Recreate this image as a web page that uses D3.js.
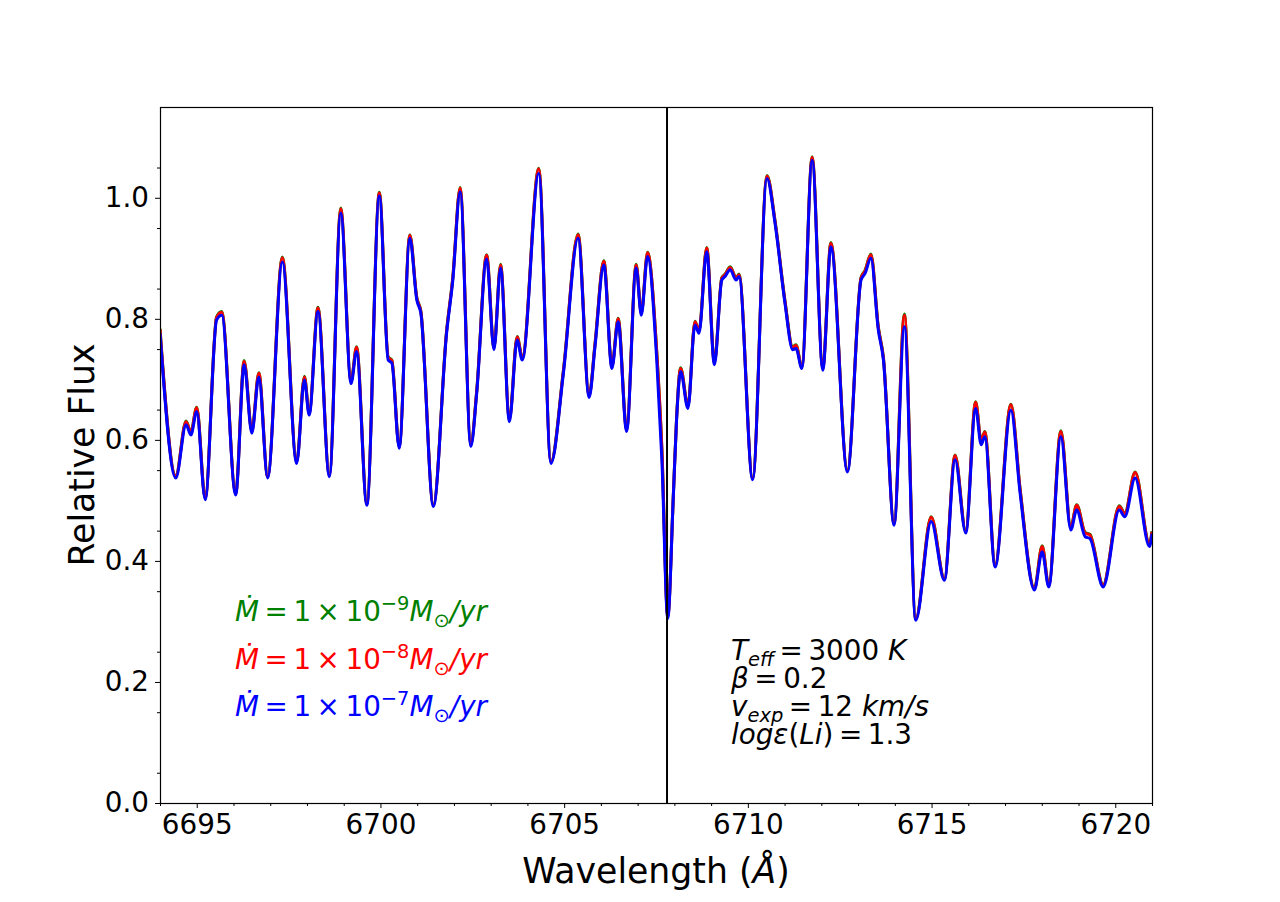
<!DOCTYPE html>
<html>
<head>
<meta charset="utf-8">
<script src="https://cdn.jsdelivr.net/npm/d3@7"></script>
<style>
  html, body { margin: 0; padding: 0; background: #fff; }
  svg { display: block; font-family: "DejaVu Sans", sans-serif; }
  text { white-space: pre; }
</style>
</head>
<body>
<svg id="chart" width="1280" height="902"></svg>
<script>
// wavelength grid (Angstrom) at peaks / troughs / shoulders
const wavelength = [
  6694.00, 6694.43, 6694.71, 6694.84, 6695.00, 6695.23, 6695.54, 6695.68, 6696.06, 6696.29,
  6696.50, 6696.69, 6696.93, 6697.33, 6697.72, 6697.93, 6698.06, 6698.30, 6698.61, 6698.92,
  6699.20, 6699.35, 6699.63, 6699.97, 6700.21, 6700.31, 6700.51, 6700.80, 6700.99, 6701.10,
  6701.44, 6701.80, 6701.97, 6702.17, 6702.46, 6702.62, 6702.89, 6703.09, 6703.27, 6703.51,
  6703.72, 6703.86, 6704.31, 6704.64, 6704.98, 6705.38, 6705.68, 6705.84, 6706.08, 6706.30,
  6706.47, 6706.70, 6706.96, 6707.10, 6707.27, 6707.52, 6707.66, 6707.82, 6707.97, 6708.06,
  6708.17, 6708.37, 6708.56, 6708.67, 6708.88, 6709.09, 6709.29, 6709.38, 6709.52, 6709.68,
  6709.76, 6710.13, 6710.52, 6710.74, 6711.01, 6711.22, 6711.31, 6711.47, 6711.75, 6712.04,
  6712.26, 6712.71, 6713.08, 6713.19, 6713.35, 6713.55, 6713.69, 6713.98, 6714.26, 6714.57,
  6714.99, 6715.35, 6715.64, 6715.93, 6716.20, 6716.35, 6716.45, 6716.73, 6717.16, 6717.41,
  6717.80, 6718.01, 6718.19, 6718.52, 6718.79, 6718.95, 6719.18, 6719.31, 6719.67, 6720.11,
  6720.26, 6720.54, 6720.93, 6721.00
];

// Mdot = 1e-9 Msun/yr (green, mostly hidden under red)
const fluxMdot9 = [
  0.784, 0.541, 0.631, 0.613, 0.654, 0.504, 0.803, 0.812, 0.512, 0.731,
  0.615, 0.711, 0.540, 0.902, 0.564, 0.705, 0.645, 0.819, 0.542, 0.983,
  0.697, 0.754, 0.495, 1.009, 0.737, 0.732, 0.589, 0.939, 0.835, 0.813,
  0.493, 0.780, 0.869, 1.017, 0.593, 0.681, 0.906, 0.753, 0.890, 0.634,
  0.771, 0.736, 1.049, 0.564, 0.715, 0.940, 0.674, 0.759, 0.896, 0.722,
  0.801, 0.618, 0.890, 0.810, 0.910, 0.746, 0.586, 0.309, 0.506, 0.636,
  0.719, 0.656, 0.796, 0.780, 0.918, 0.728, 0.868, 0.874, 0.886, 0.868,
  0.874, 0.537, 1.037, 0.962, 0.830, 0.754, 0.757, 0.721, 1.068, 0.719,
  0.926, 0.550, 0.868, 0.880, 0.907, 0.787, 0.736, 0.462, 0.808, 0.305,
  0.473, 0.371, 0.575, 0.450, 0.663, 0.599, 0.614, 0.394, 0.659, 0.519,
  0.355, 0.425, 0.360, 0.615, 0.456, 0.493, 0.447, 0.444, 0.361, 0.491,
  0.479, 0.547, 0.429, 0.449
];

// Mdot = 1e-8 Msun/yr (red)
const fluxMdot8 = [
  0.783, 0.540, 0.630, 0.612, 0.653, 0.503, 0.802, 0.811, 0.511, 0.730,
  0.614, 0.710, 0.539, 0.901, 0.563, 0.704, 0.644, 0.818, 0.541, 0.982,
  0.696, 0.753, 0.494, 1.008, 0.736, 0.731, 0.588, 0.938, 0.834, 0.812,
  0.492, 0.779, 0.868, 1.016, 0.592, 0.680, 0.905, 0.752, 0.889, 0.633,
  0.770, 0.735, 1.048, 0.563, 0.714, 0.939, 0.673, 0.758, 0.895, 0.721,
  0.800, 0.617, 0.889, 0.809, 0.909, 0.745, 0.585, 0.308, 0.505, 0.635,
  0.718, 0.655, 0.795, 0.779, 0.917, 0.727, 0.867, 0.873, 0.885, 0.867,
  0.873, 0.536, 1.036, 0.961, 0.829, 0.753, 0.756, 0.720, 1.067, 0.718,
  0.925, 0.549, 0.867, 0.879, 0.906, 0.786, 0.735, 0.461, 0.806, 0.304,
  0.472, 0.370, 0.574, 0.449, 0.662, 0.598, 0.613, 0.393, 0.658, 0.518,
  0.354, 0.424, 0.359, 0.614, 0.455, 0.492, 0.446, 0.443, 0.360, 0.490,
  0.478, 0.546, 0.428, 0.448
];

// Mdot = 1e-7 Msun/yr (blue, drawn on top)
const fluxMdot7 = [
  0.777, 0.537, 0.625, 0.608, 0.647, 0.501, 0.798, 0.806, 0.509, 0.724,
  0.611, 0.704, 0.537, 0.894, 0.561, 0.699, 0.641, 0.812, 0.539, 0.975,
  0.693, 0.746, 0.492, 1.003, 0.732, 0.727, 0.586, 0.933, 0.831, 0.809,
  0.490, 0.776, 0.864, 1.010, 0.589, 0.677, 0.899, 0.749, 0.884, 0.630,
  0.765, 0.732, 1.040, 0.561, 0.710, 0.933, 0.670, 0.754, 0.889, 0.718,
  0.795, 0.614, 0.884, 0.806, 0.903, 0.732, 0.567, 0.305, 0.504, 0.633,
  0.713, 0.652, 0.790, 0.776, 0.911, 0.724, 0.864, 0.870, 0.881, 0.864,
  0.870, 0.534, 1.032, 0.958, 0.826, 0.749, 0.751, 0.718, 1.062, 0.715,
  0.919, 0.547, 0.864, 0.875, 0.900, 0.782, 0.732, 0.459, 0.787, 0.302,
  0.465, 0.368, 0.567, 0.446, 0.652, 0.592, 0.605, 0.390, 0.649, 0.512,
  0.352, 0.415, 0.357, 0.605, 0.451, 0.484, 0.440, 0.437, 0.357, 0.484,
  0.473, 0.537, 0.424, 0.445
];

const seriesNames = ["1e-9", "1e-8", "1e-7"];
const seriesColors = ["green", "red", "blue"];
const seriesExponents = ["\u22129", "\u22128", "\u22127"];
const seriesFlux = [fluxMdot9, fluxMdot8, fluxMdot7];

const xTicks = [6695, 6700, 6705, 6710, 6715, 6720];
const yTicks = [0.0, 0.2, 0.4, 0.6, 0.8, 1.0];
const liLine = 6707.8;

(function () {
  "use strict";

  const svg = d3.select("#chart");
  const margin = { left: 160, top: 107, right: 1152, bottom: 803 };
  const FS = 27.8;
  const TH = "\u2009"; // thin space, closer to mathtext spacing

  const x = d3.scaleLinear().domain([6694, 6721]).range([margin.left, margin.right]);
  const y = d3.scaleLinear().domain([0, 1.15]).range([margin.bottom, margin.top]);

  svg.append("defs").append("clipPath").attr("id", "plot-clip")
    .append("rect")
    .attr("x", margin.left).attr("y", margin.top)
    .attr("width", margin.right - margin.left).attr("height", margin.bottom - margin.top);

  const plot = svg.append("g").attr("clip-path", "url(#plot-clip)");

  const line = d3.line()
    .x((d) => x(d[0]))
    .y((d) => y(d[1]))
    .curve(d3.curveMonotoneX);

  seriesFlux.forEach((flux, i) => {
    plot.append("path")
      .datum(wavelength.map((w, k) => [w, flux[k]]))
      .attr("fill", "none")
      .attr("stroke", seriesColors[i])
      .attr("stroke-width", 3)
      .attr("stroke-linejoin", "round")
      .attr("d", line);
  });

  // Li I line marker
  plot.append("line")
    .attr("x1", x(liLine)).attr("x2", x(liLine))
    .attr("y1", margin.top).attr("y2", margin.bottom)
    .attr("stroke", "black").attr("stroke-width", 2);

  // axes
  const xAxis = svg.append("g").attr("transform", `translate(0,${margin.bottom})`)
    .call(d3.axisBottom(x).tickValues(xTicks).tickFormat(d3.format("d")).tickSize(5).tickPadding(6));
  svg.append("g").attr("transform", `translate(0,${margin.bottom})`)
    .call(d3.axisBottom(x).tickValues(d3.range(6694, 6722).filter((v) => v % 5 !== 0)).tickFormat("").tickSize(3))
    .call((g) => g.select(".domain").remove());

  const yAxis = svg.append("g").attr("transform", `translate(${margin.left},0)`)
    .call(d3.axisLeft(y).tickValues(yTicks).tickFormat(d3.format(".1f")).tickSize(5).tickPadding(6));
  svg.append("g").attr("transform", `translate(${margin.left},0)`)
    .call(d3.axisLeft(y).tickValues(d3.range(1, 23, 2).map((v) => v * 0.05)).tickFormat("").tickSize(3))
    .call((g) => g.select(".domain").remove());

  [xAxis, yAxis].forEach((g) => {
    g.selectAll("text").style("font-size", FS + "px").style("font-family", "DejaVu Sans").attr("fill", "black");
    g.select(".domain").remove();
  });
  svg.selectAll(".tick line").attr("stroke", "black").attr("stroke-width", 1);

  svg.append("rect")
    .attr("x", margin.left + 0.5).attr("y", margin.top + 0.5)
    .attr("width", margin.right - margin.left).attr("height", margin.bottom - margin.top)
    .attr("fill", "none").attr("stroke", "black").attr("stroke-width", 1.2);

  // axis labels
  const xl = svg.append("text")
    .attr("x", (margin.left + margin.right) / 2).attr("y", 883)
    .attr("text-anchor", "middle").style("font-size", "34.7px");
  xl.append("tspan").text("Wavelength (");
  xl.append("tspan").style("font-style", "italic").text("\u00C5");
  xl.append("tspan").text(")");

  svg.append("text")
    .attr("transform", `translate(94,${(margin.top + margin.bottom) / 2}) rotate(-90)`)
    .attr("text-anchor", "middle").style("font-size", "34.7px")
    .text("Relative Flux");

  // mathtext-like helper
  function mathText(xp, yp, parts, color) {
    const t = svg.append("text").attr("x", xp).attr("y", yp).attr("fill", color).style("font-size", FS + "px");
    let shift = 0;
    parts.forEach(([str, it, pos]) => {
      const target = pos === "sup" ? -0.4 * FS : pos === "sub" ? 0.22 * FS : 0;
      const ts = t.append("tspan").attr("dy", target - shift).text(str);
      shift = target;
      if (it) ts.style("font-style", "italic");
      if (pos) ts.style("font-size", (0.7 * FS) + "px");
    });
    return t;
  }

  const legendY = [621, 669, 716];
  seriesNames.forEach((n, i) => {
    mathText(235, legendY[i], [
      ["\u1E40", true],
      [TH + "=" + TH + "1" + TH + "\u00D7" + TH + "10", false],
      [seriesExponents[i], false, "sup"],
      ["M", true],
      ["\u2299", false, "sub"],
      ["/yr", true]
    ], seriesColors[i]);
  });

  const params = [
    [["T", true], ["eff", true, "sub"], [TH + "=" + TH + "3000 ", false], ["K", true]],
    [["\u03B2", true], [TH + "=" + TH + "0.2", false]],
    [["v", true], ["exp", true, "sub"], [TH + "=" + TH + "12 ", false], ["km/s", true]],
    [["log\u03B5", true], ["(", false], ["Li", true], [")", false], [TH + "=" + TH + "1.3", false]]
  ];
  const paramY = [660, 688, 716, 744];
  params.forEach((p, i) => mathText(731, paramY[i], p, "black"));
})();
</script>
</body>
</html>
